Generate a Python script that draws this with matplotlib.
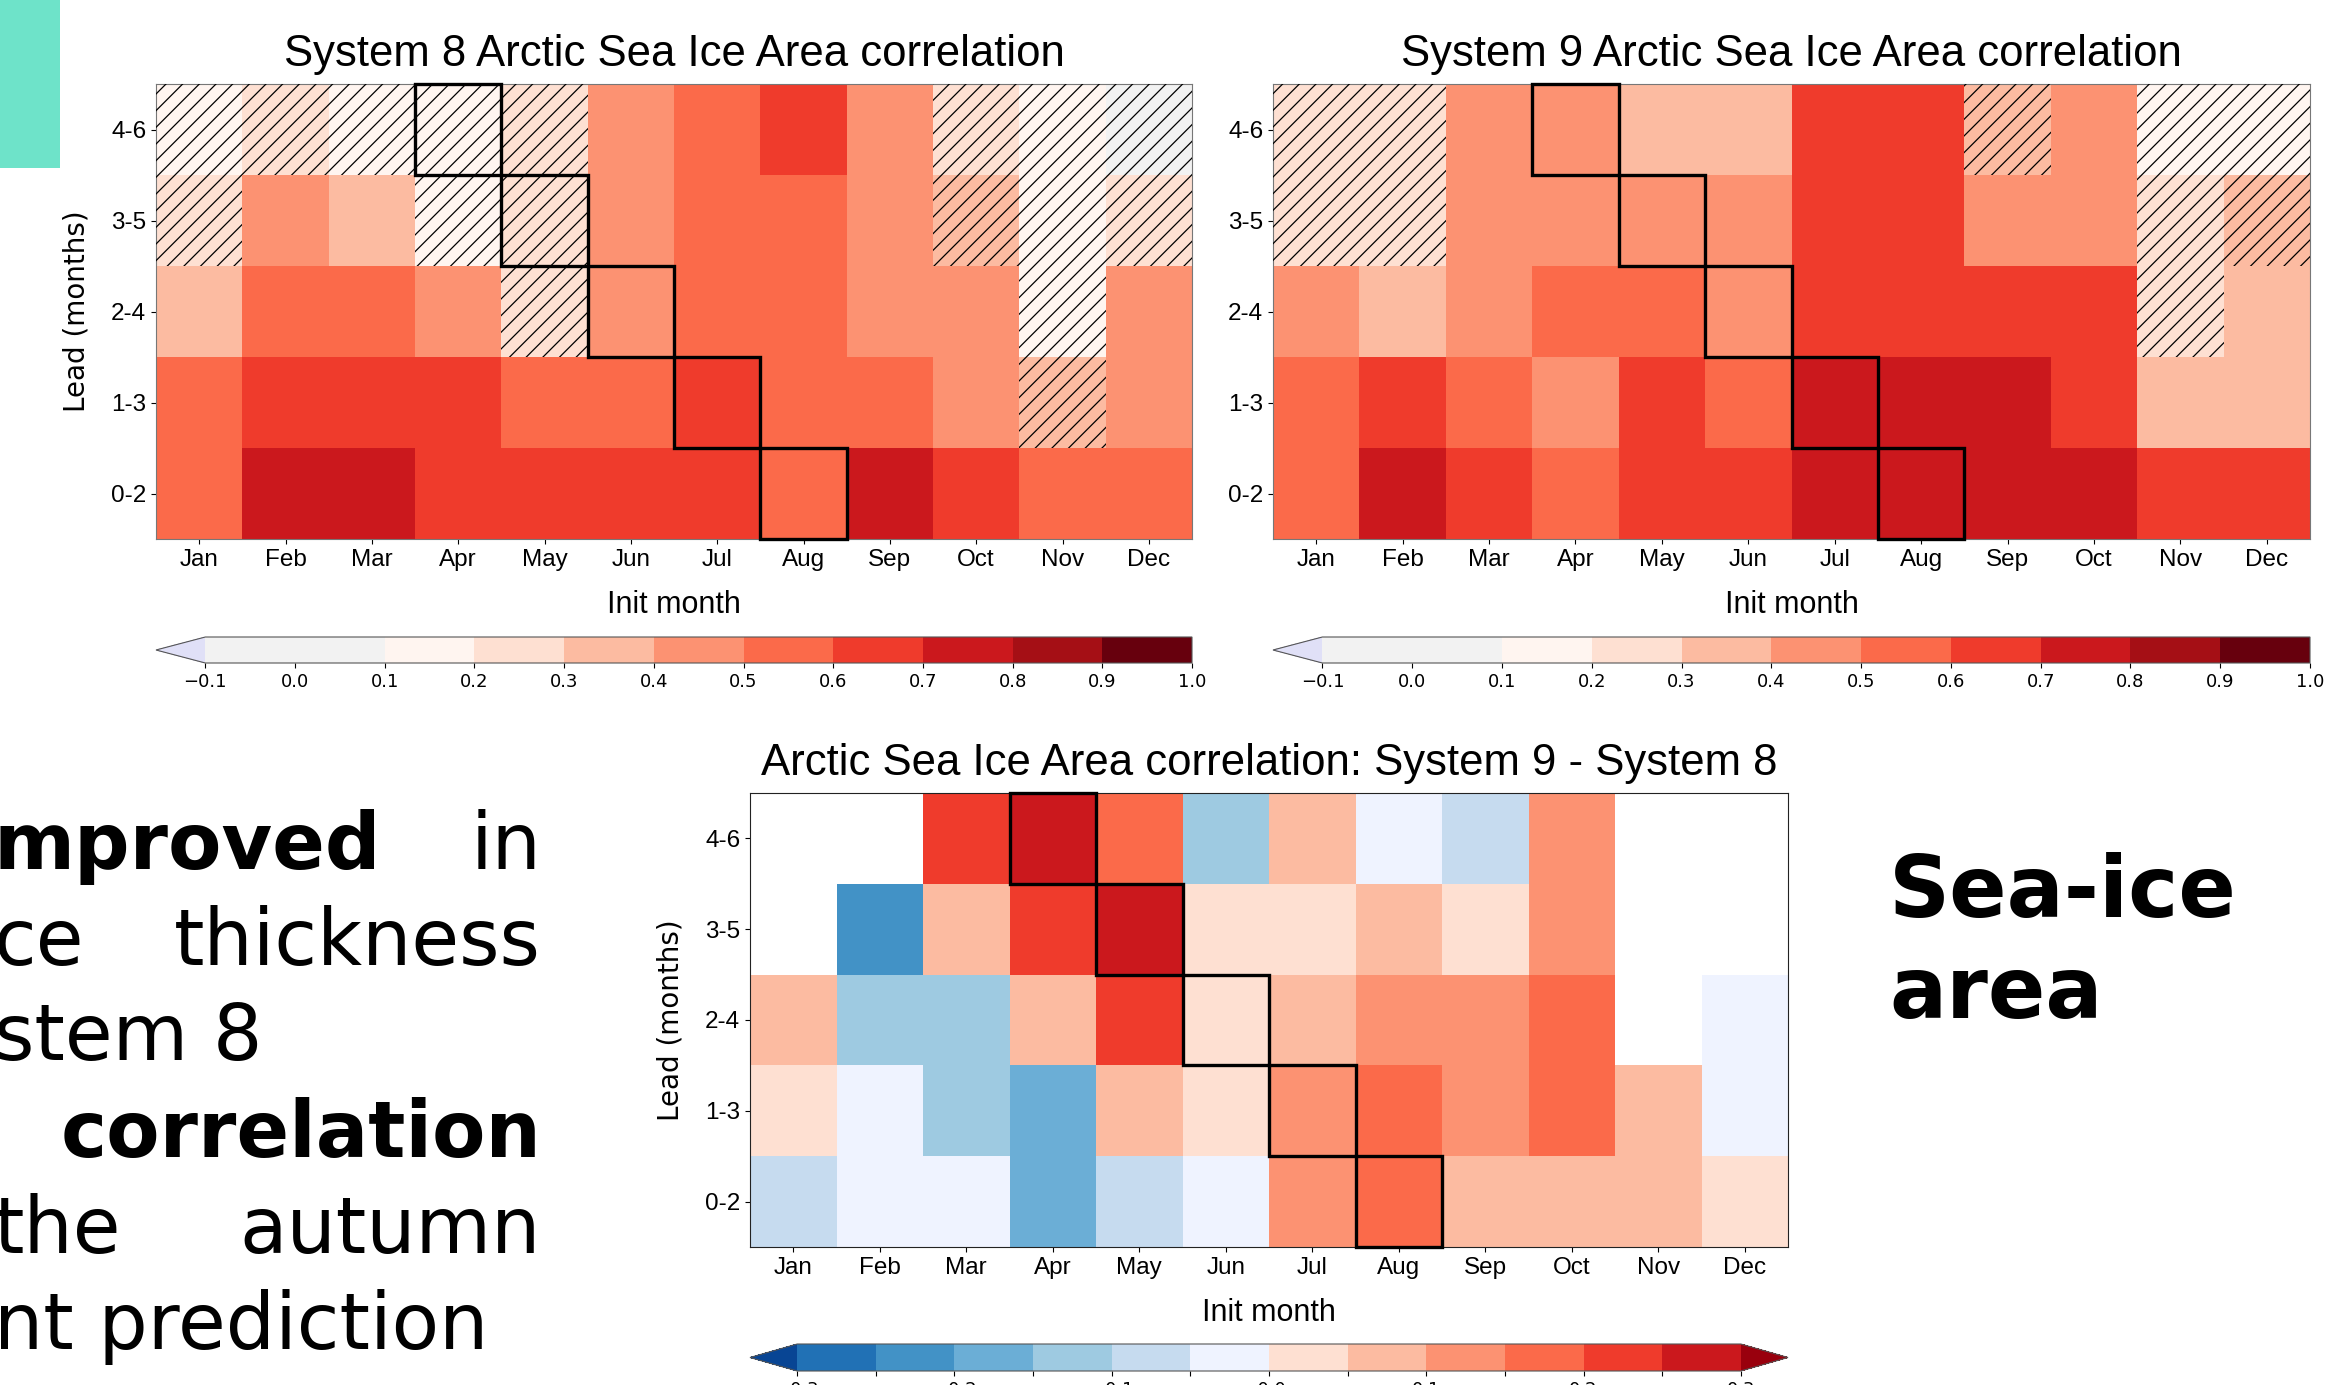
import numpy as np
import matplotlib

matplotlib.use("Agg")
import matplotlib.pyplot as plt
from matplotlib.colors import ListedColormap, BoundaryNorm
from matplotlib.patches import Rectangle

plt.rcParams["font.family"] = "Liberation Sans"
plt.rcParams["hatch.linewidth"] = 0.9

months = ["Jan", "Feb", "Mar", "Apr", "May", "Jun", "Jul", "Aug", "Sep", "Oct", "Nov", "Dec"]
leads = ["0-2", "1-3", "2-4", "3-5", "4-6"]

# correlation, rows = leads (0-2 at bottom)
s8_corr = [
    [0.55, 0.75, 0.75, 0.65, 0.65, 0.65, 0.65, 0.55, 0.75, 0.65, 0.55, 0.55],
    [0.55, 0.65, 0.65, 0.65, 0.55, 0.55, 0.65, 0.55, 0.55, 0.45, 0.35, 0.45],
    [0.35, 0.55, 0.55, 0.45, 0.25, 0.45, 0.55, 0.55, 0.45, 0.45, 0.15, 0.45],
    [0.25, 0.45, 0.35, 0.15, 0.25, 0.45, 0.55, 0.55, 0.45, 0.35, 0.15, 0.25],
    [0.15, 0.25, 0.15, 0.15, 0.25, 0.45, 0.55, 0.65, 0.45, 0.25, 0.15, 0.05],
]
s9_corr = [
    [0.55, 0.75, 0.65, 0.55, 0.65, 0.65, 0.75, 0.75, 0.75, 0.75, 0.65, 0.65],
    [0.55, 0.65, 0.55, 0.45, 0.65, 0.55, 0.75, 0.75, 0.75, 0.65, 0.35, 0.35],
    [0.45, 0.35, 0.45, 0.55, 0.55, 0.45, 0.65, 0.65, 0.65, 0.65, 0.25, 0.35],
    [0.25, 0.25, 0.45, 0.45, 0.45, 0.45, 0.65, 0.65, 0.45, 0.45, 0.25, 0.35],
    [0.25, 0.25, 0.45, 0.45, 0.35, 0.35, 0.65, 0.65, 0.35, 0.45, 0.15, 0.15],
]
# 1 = not significant (hatched)
s8_hatch = [
    [0, 0, 0, 0, 0, 0, 0, 0, 0, 0, 0, 0],
    [0, 0, 0, 0, 0, 0, 0, 0, 0, 0, 1, 0],
    [0, 0, 0, 0, 1, 0, 0, 0, 0, 0, 1, 0],
    [1, 0, 0, 1, 1, 0, 0, 0, 0, 1, 1, 1],
    [1, 1, 1, 1, 1, 0, 0, 0, 0, 1, 1, 1],
]
s9_hatch = [
    [0, 0, 0, 0, 0, 0, 0, 0, 0, 0, 0, 0],
    [0, 0, 0, 0, 0, 0, 0, 0, 0, 0, 0, 0],
    [0, 0, 0, 0, 0, 0, 0, 0, 0, 0, 1, 0],
    [1, 1, 0, 0, 0, 0, 0, 0, 0, 0, 1, 1],
    [1, 1, 0, 0, 0, 0, 0, 0, 1, 0, 1, 1],
]
nan = np.nan
diff = [
    [-0.07, -0.02, -0.02, -0.17, -0.07, -0.02, 0.12, 0.17, 0.07, 0.07, 0.07, 0.02],
    [0.02, -0.02, -0.12, -0.17, 0.07, 0.02, 0.12, 0.17, 0.12, 0.17, 0.07, -0.02],
    [0.07, -0.12, -0.12, 0.07, 0.22, 0.02, 0.07, 0.12, 0.12, 0.17, nan, -0.02],
    [nan, -0.22, 0.07, 0.22, 0.27, 0.02, 0.02, 0.07, 0.02, 0.12, nan, nan],
    [nan, nan, 0.22, 0.27, 0.17, -0.12, 0.07, -0.02, -0.07, 0.12, nan, nan],
]
# September target boxes (init month, lead)
target = [("Apr", "4-6"), ("May", "3-5"), ("Jun", "2-4"), ("Jul", "1-3"), ("Aug", "0-2")]

corr_levels = np.round(np.arange(-0.1, 1.01, 0.1), 2)
corr_cmap = ListedColormap(["#f2f2f2", "#f2f2f2", "#fff5f0", "#fee0d2", "#fcbba1", "#fc9272",
                            "#fb6a4a", "#ef3b2c", "#cb181d", "#a50f15", "#67000d"])
corr_cmap.set_under("#e0e0f7")
corr_norm = BoundaryNorm(corr_levels, corr_cmap.N)

diff_levels = np.round(np.arange(-0.3, 0.301, 0.05), 2)
diff_cmap = ListedColormap(["#2171b5", "#4292c6", "#6baed6", "#9ecae1", "#c6dbef", "#eff3ff",
                            "#fee0d2", "#fcbba1", "#fc9272", "#fb6a4a", "#ef3b2c", "#cb181d"])
diff_cmap.set_under("#084594")
diff_cmap.set_over("#99000d")
diff_norm = BoundaryNorm(diff_levels, diff_cmap.N)

W, H = 2338, 1385
fig = plt.figure(figsize=(W / 100, H / 100), dpi=100)
fig.patch.set_facecolor("white")


def fx(px):
    return px / W


def fy(py):
    return 1 - py / H


def heatmap(rect, data, cmap, norm, title, hatch=None, ylabel=True, spine="#777777"):
    ax = fig.add_axes(rect)
    arr = np.ma.masked_invalid(np.array(data, dtype=float))
    mesh = ax.pcolormesh(np.arange(len(months) + 1), np.arange(len(leads) + 1), arr,
                         cmap=cmap, norm=norm)
    if hatch is not None:
        for li, row in enumerate(hatch):
            for mi, flag in enumerate(row):
                if flag:
                    ax.add_patch(Rectangle((mi, li), 1, 1, facecolor="none", edgecolor="k",
                                           linewidth=0, hatch="//", zorder=3))
    for m, l in target:
        ax.add_patch(Rectangle((months.index(m), leads.index(l)), 1, 1, fill=False,
                               edgecolor="k", linewidth=2.4, zorder=5, clip_on=False))
    ax.set_xticks(np.arange(len(months)) + 0.5)
    ax.set_xticklabels(months)
    ax.set_yticks(np.arange(len(leads)) + 0.5)
    ax.set_yticklabels(leads)
    ax.tick_params(labelsize=17.5)
    ax.set_xlim(0, len(months))
    ax.set_ylim(0, len(leads))
    ax.set_xlabel("Init month", fontsize=22, labelpad=14)
    if ylabel:
        ax.set_ylabel("Lead (months)", fontsize=20, family="DejaVu Sans", labelpad=15)
    ax.set_title(title, fontsize=31.5, pad=13)
    for s in ax.spines.values():
        s.set_color(spine)
    return mesh


def colorbar(mesh, rect, extend, ticks, labels):
    cax = fig.add_axes(rect)
    cb = fig.colorbar(mesh, cax=cax, orientation="horizontal", extend=extend)
    cb.set_ticks(ticks)
    cb.set_ticklabels(labels)
    cb.outline.set_edgecolor("#555555")
    cax.tick_params(labelsize=13)
    for t in cax.get_xticklabels():
        t.set_family("DejaVu Sans")
    return cb


def fmt(v):
    return "%.1f" % v if v >= 0 else "\u2212%.1f" % -v


# top left: System 8
m8 = heatmap([fx(156), fy(539), fx(1036), 455 / H], s8_corr, corr_cmap, corr_norm,
             "System 8 Arctic Sea Ice Area correlation", hatch=s8_hatch)
colorbar(m8, [fx(156), fy(663), fx(1036), 26 / H], "min", corr_levels,
         [fmt(v) for v in corr_levels])

# top right: System 9
m9 = heatmap([fx(1273), fy(539), fx(1037), 455 / H], s9_corr, corr_cmap, corr_norm,
             "System 9 Arctic Sea Ice Area correlation", hatch=s9_hatch, ylabel=False)
colorbar(m9, [fx(1273), fy(663), fx(1037), 26 / H], "min", corr_levels,
         [fmt(v) for v in corr_levels])

# bottom: difference
md = heatmap([fx(750), fy(1247), fx(1038), 454 / H], diff, diff_cmap, diff_norm,
             "Arctic Sea Ice Area correlation: System 9 - System 8", spine="#222222")
dlabels = ["" if i % 2 else fmt(v) for i, v in enumerate(diff_levels)]
colorbar(md, [fx(750), fy(1371), fx(1038), 27 / H], "both", diff_levels, dlabels)

# slide decorations
fig.patches.append(Rectangle((0, fy(168)), fx(60), 168 / H, transform=fig.transFigure,
                             facecolor="#6ee3c9", edgecolor="none"))

slide = dict(family="DejaVu Sans", fontsize=56, va="baseline", color="black")
right_x = fx(541)
left_x = fx(-6)
fig.text(left_x, fy(869), "mproved", ha="left", weight="bold", **slide)
fig.text(right_x, fy(869), "in", ha="right", **slide)
fig.text(left_x, fy(965), "ce", ha="left", **slide)
fig.text(right_x, fy(965), "thickness", ha="right", **slide)
fig.text(left_x, fy(1060), "stem 8", ha="left", **slide)
fig.text(right_x, fy(1157), "correlation", ha="right", weight="bold", **slide)
fig.text(left_x, fy(1253), "the", ha="left", **slide)
fig.text(right_x, fy(1253), "autumn", ha="right", **slide)
fig.text(left_x, fy(1349), "nt prediction", ha="left", **slide)

big = dict(family="DejaVu Sans", fontsize=61, weight="bold", va="baseline", ha="left")
fig.text(fx(1889), fy(917), "Sea-ice", **big)
fig.text(fx(1889), fy(1018), "area", **big)

fig.savefig("out.png", dpi=100, facecolor="white")
